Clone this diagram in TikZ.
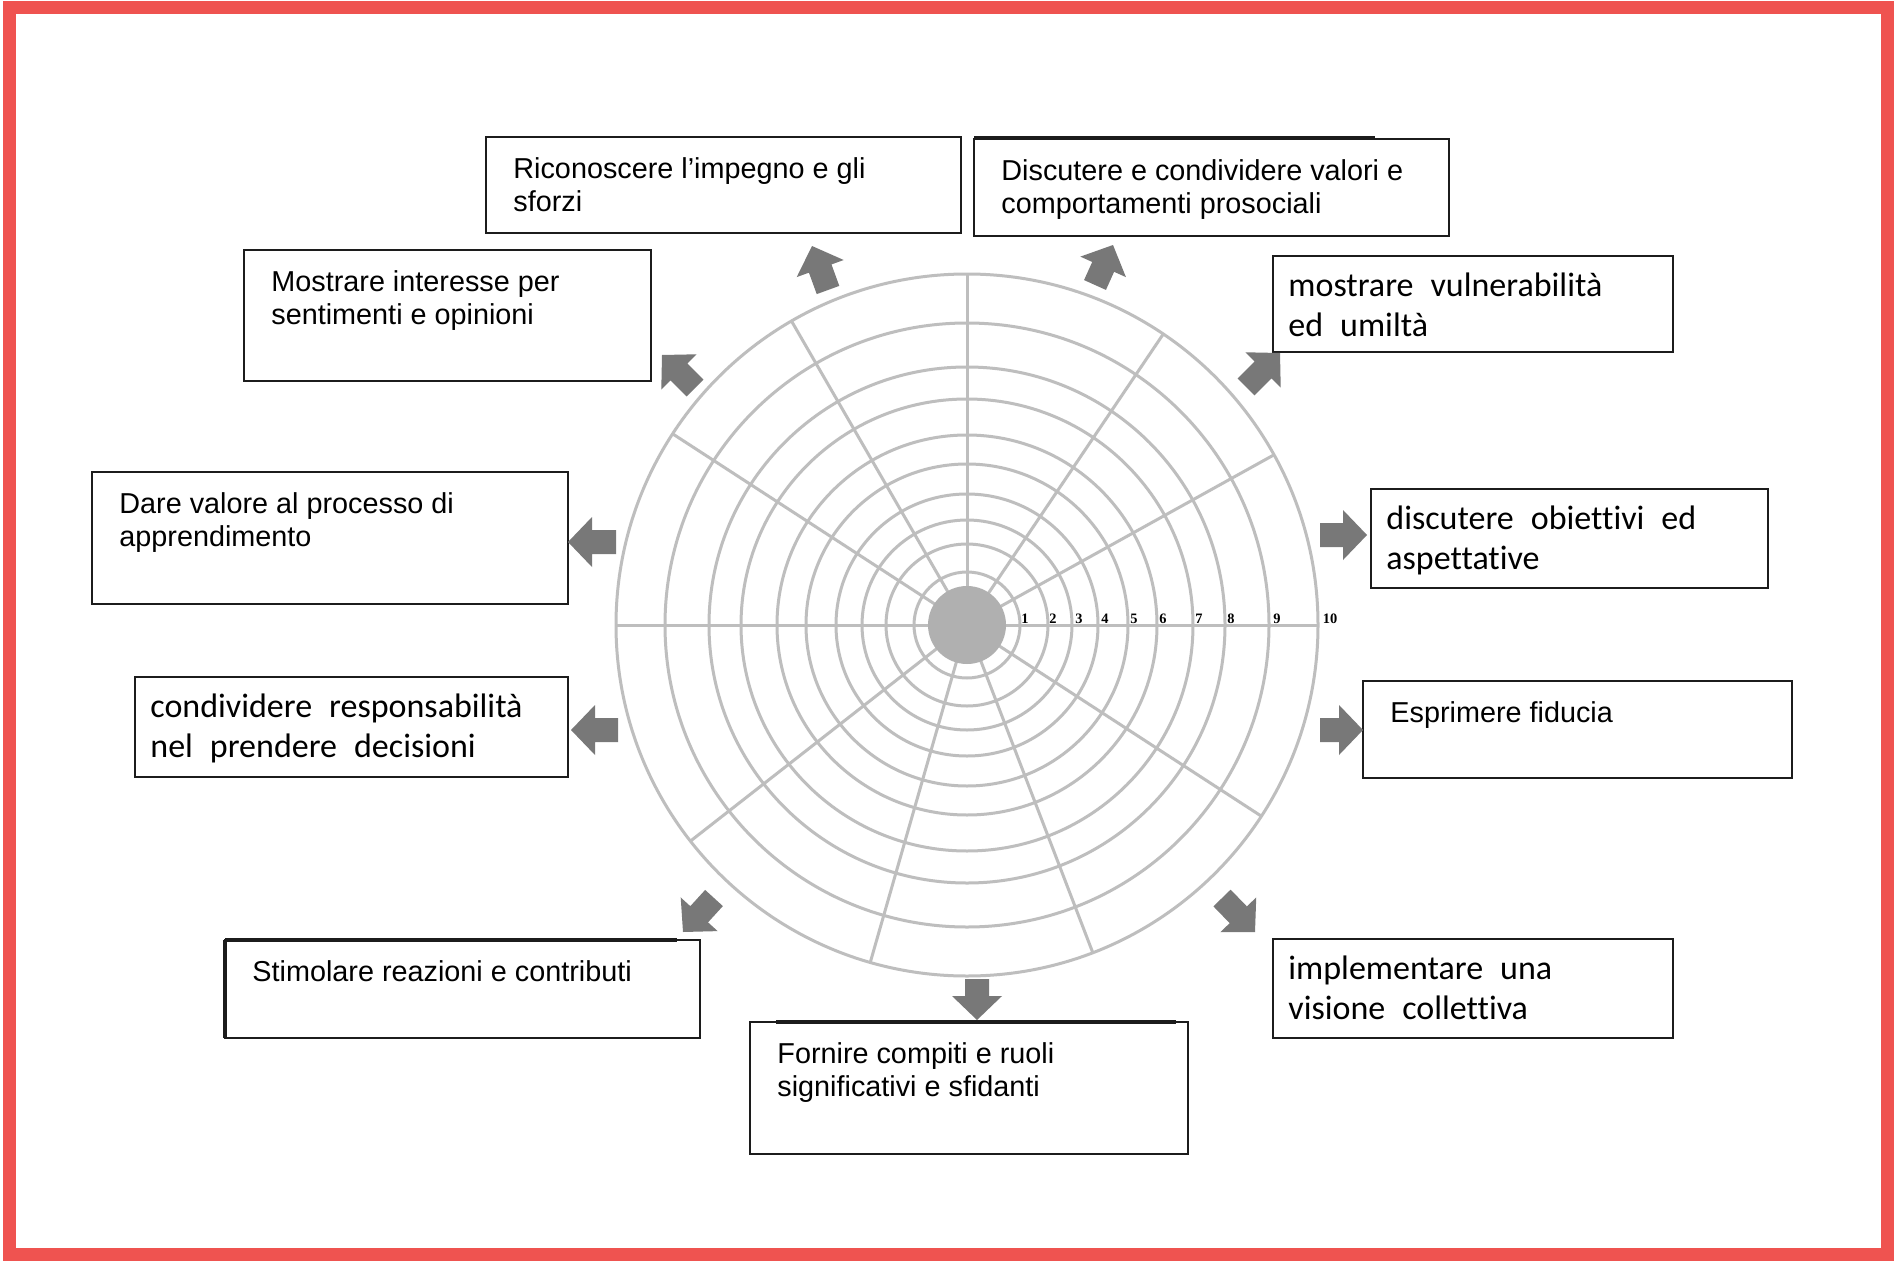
\documentclass[tikz,border=0pt]{standalone}
\usepackage{fontspec}
\setmainfont{Liberation Sans}
\newfontfamily\calfont[Ligatures=NoCommon]{Carlito}
\newfontfamily\numfont{Liberation Serif}
\usetikzlibrary{calc,positioning}

\definecolor{framered}{RGB}{239,83,80}
\definecolor{gridgray}{RGB}{190,190,190}
\definecolor{hubgray}{RGB}{176,176,176}
\definecolor{arrowgray}{RGB}{120,120,120}
\definecolor{boxline}{RGB}{28,28,28}

\tikzset{
  ring/.style={draw=gridgray, line width=1.5pt},
  actframe/.style={draw=boxline, line width=1.35pt, fill=white, inner sep=0pt, outer sep=0pt},
  heavyedge/.style={draw=boxline, line width=2.2pt},
  sanstext/.style={font={\fontsize{14.4}{16.5}\selectfont}, align=left, inner sep=0pt,
    below right=8.95pt and 13.5pt of #1.north west},
  caltext/.style={font={\calfont\fontsize{17}{20}\selectfont\spaceskip=0.5em\relax}, align=left, inner sep=0pt,
    below right=6pt and 7.5pt of #1.north west},
  ticklab/.style={font={\numfont\bfseries\fontsize{7.2}{8}\selectfont}, inner sep=0pt, anchor=base},
}

\def\actbox(#1,#2,#3,#4,#5,#6,#7){
  \node[actframe, minimum width=(#4-#2)*0.5pt, minimum height=(#5-#3)*0.5pt] (#1) at ({(#2+#4)/2},{(#3+#5)/2}) {};
  \node[#6=#1] (#1_txt) {\strut #7};
}
\def\blockarrow(#1,#2){
  \fill[arrowgray] (#2) -- ($(#2)!12pt!(#1)!12.5pt!90:(#1)$) -- ($(#2)!12pt!(#1)!6pt!90:(#1)$)
    -- ($(#1)!6pt!-90:(#2)$) -- ($(#1)!6pt!90:(#2)$)
    -- ($(#2)!12pt!(#1)!6pt!-90:(#1)$) -- ($(#2)!12pt!(#1)!12.5pt!-90:(#1)$) -- cycle;
}

\begin{document}
\begin{tikzpicture}[x=0.5pt, y=-0.5pt]
\useasboundingbox (0,0) rectangle (1895,1263);
\fill[white] (0,0) rectangle (1895,1263);
\draw[framered, line width=6.5pt] (9,8) rectangle (1887,1254);
% target
\coordinate (ctr) at (967,625);
\foreach \r in {53,81,105,131,161,190,226,258,302,351}
  \draw[ring] (ctr) circle[radius=\r];
\foreach \a in {0,29,56,90,120,147,180,218,254,291,327}
  \draw[ring] (ctr) -- ++(-\a:351);
\node[circle, fill=hubgray, minimum size=39pt, inner sep=0pt] (hub) at (ctr) {};
\foreach \n/\x in {1/1025,2/1053,3/1079,4/1105,5/1134,6/1163,7/1199,8/1231,9/1277,10/1330}
  \node[ticklab] (tick\n) at (\x,623) {\n};
% boxes
\actbox(b1,486,137,961,233,sanstext,Riconoscere l’impegno e gli\\sforzi)
\actbox(b2,974,139,1449,236,sanstext,Discutere e condividere valori e\\comportamenti prosociali)
\actbox(b3,1273,256,1673,352,caltext,mostrare vulnerabilità\\ed umiltà)
\actbox(b4,1371,489,1768,588,caltext,discutere obiettivi ed\\aspettative)
\actbox(b5,1363,681,1792,778,sanstext,Esprimere fiducia)
\actbox(b6,1273,939,1673,1038,caltext,implementare una\\visione collettiva)
\actbox(b7,750,1022,1188,1154,sanstext,Fornire compiti e ruoli\\significativi e sfidanti)
\actbox(b8,225,940,700,1038,sanstext,Stimolare reazioni e contributi)
\actbox(b9,135,677,568,777,caltext,condividere responsabilità\\nel prendere decisioni)
\actbox(b10,92,472,568,604,sanstext,Dare valore al processo di\\apprendimento)
\actbox(b11,244,250,651,381,sanstext,Mostrare interesse per\\sentimenti e opinioni)
\draw[heavyedge] ([yshift=0.6pt]b2.north west) -- ++(401,0);
\draw[heavyedge] (b8.north west) -- ++(452,0);
\draw[heavyedge] (b8.north west) -- (b8.south west);
\draw[heavyedge] ([xshift=13pt]b7.north west) -- ++(400,0);
% arrows
\foreach \i/\sx/\sy/\ex/\ey in {1/828/290/812/246, 2/1095/285/1113/245, 3/1246/387/1280/353,
    4/1320/535/1367/535, 5/1320/730/1363/730, 6/1222/898/1255/932, 7/977/979/977/1020,
    8/714/898/683/932, 9/618/730/571/730, 10/616/542/568/542, 11/695/388/662/355}{
  \coordinate (arr\i_s) at (\sx,\sy);
  \coordinate (arr\i_e) at (\ex,\ey);
  \blockarrow(arr\i_s,arr\i_e)
}
\end{tikzpicture}
\end{document}
